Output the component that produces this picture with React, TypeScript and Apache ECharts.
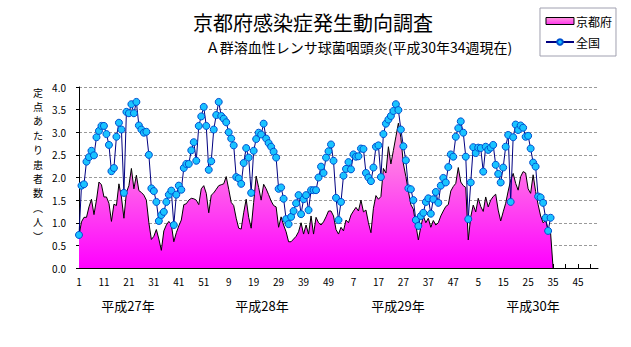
import React, { useEffect, useRef } from "react";
import * as echarts from "echarts";

const yearWeeks = [52, 52, 52, 53];
const yearLabels = ["平成27年", "平成28年", "平成29年", "平成30年"];
const categories: string[] = [];
yearWeeks.forEach((n) => {
  for (let w = 1; w <= n; w++) categories.push(String(w));
});

const yTicks = [0, 0.5, 1, 1.5, 2, 2.5, 3, 3.5, 4];
const yAxisTitleChars = ["定", "点", "あ", "た", "り", "患", "者", "数", "︵", "人", "︶"];

const kyoto = [
  0.72, 1.02, 1.12, 1.12, 1.35, 1.52, 1.18, 1.5, 1.9, 1.84,
  1.57, 1.57, 1.43, 1.03, 1.41, 1.38, 1.86, 1.57, 1.1, 1.67,
  1.82, 2.2, 1.75, 2.05, 1.71, 1.67, 1.61, 1.5, 1.0, 0.63,
  0.7, 0.85, 0.64, 0.39, 0.82, 0.95, 1.03, 0.96, 0.58, 0.78,
  0.93, 1.06, 1.4, 1.42, 1.5, 1.54, 1.53, 1.5, 1.4, 1.75,
  1.82, 1.65, 1.22, 1.61, 1.66, 1.74, 1.82, 1.84, 1.86, 2.02,
  1.74, 1.45, 1.38, 1.1, 0.88, 0.86, 1.22, 1.52, 1.12, 0.88,
  1.45, 2.03, 1.78, 1.5, 1.85, 1.75, 1.62, 1.48, 1.38, 1.35,
  0.9, 1.13, 0.95, 0.8, 0.58, 0.58, 0.64, 0.7, 0.8, 1.0,
  0.75, 0.95, 0.75, 1.15, 0.75, 1.12, 1.0, 0.95, 1.02, 1.13,
  1.26, 1.26, 1.15, 0.85, 0.75, 0.9, 0.82, 1.06, 1.0, 1.17,
  1.26, 1.34, 1.26, 1.5, 1.24, 1.28, 1.0, 0.78, 1.32, 1.6,
  1.52, 1.58, 2.2, 2.1, 2.68, 2.3, 2.6, 2.9, 3.2, 2.88,
  2.3, 2.02, 1.7, 1.4, 1.3, 0.95, 0.62, 0.91, 1.15, 1.0,
  1.1, 0.9, 1.05, 0.95, 1.0, 1.15, 1.26, 1.36, 1.4, 1.7,
  1.8, 1.87, 2.22, 1.9, 1.82, 1.78, 0.62, 1.13, 1.39, 1.24,
  1.54, 1.36, 1.25, 1.57, 1.35, 1.5, 1.58, 1.63, 1.28, 1.04,
  1.24, 1.43, 1.7, 1.94, 2.09, 1.87, 1.72, 2.02, 2.13, 2.1,
  1.75, 1.65, 2.06, 1.69, 1.4, 1.15, 1.0, 1.05, 0.85, 0.78,
  0,
];

const national = [
  0.73, 1.82, 1.85, 2.35, 2.45, 2.59, 2.49, 2.89, 3.03, 3.14,
  3.14, 2.96, 2.72, 2.14, 2.21, 2.9, 3.21, 3.06, 1.66, 3.45,
  3.42, 3.62, 3.42, 3.67, 3.15, 3.06, 2.99, 3.01, 2.5, 1.76,
  1.7, 1.46, 1.04, 1.17, 1.24, 1.46, 1.62, 1.71, 0.95, 1.62,
  1.82, 1.73, 2.21, 2.3, 2.3, 2.6, 2.78, 2.37, 3.14, 3.35,
  3.56, 3.14, 2.17, 2.36, 3.06, 3.38, 3.67, 3.36, 3.3, 3.22,
  3.0, 2.86, 2.71, 2.01, 1.98, 1.86, 2.32, 2.65, 2.44, 1.66,
  2.59, 2.85, 2.99, 2.95, 3.19, 2.86, 2.76, 2.68, 2.57, 2.44,
  1.75, 1.78, 1.53, 1.08, 0.97, 1.13, 1.26, 1.43, 1.61, 1.19,
  1.52, 1.61, 1.28, 1.72, 1.72, 1.72, 2.0, 2.24, 2.1, 2.44,
  2.58, 2.73, 2.37, 1.55, 1.06, 1.46, 2.04, 2.19, 2.34, 2.18,
  2.51, 2.46, 2.47, 2.64, 2.63, 2.1, 2.0, 1.92, 2.22, 2.68,
  2.71, 2.01, 2.96, 3.19, 3.28, 3.36, 3.47, 3.62, 3.49, 3.06,
  2.69, 2.38, 1.76, 1.74, 1.5, 1.06, 0.93, 1.15, 1.22, 1.46,
  1.54, 1.2, 1.52, 1.68, 1.44, 1.82, 1.99, 1.89, 2.23, 2.51,
  2.46, 2.9, 3.09, 3.24, 2.99, 2.46, 1.08, 1.89, 2.67, 2.54,
  2.66, 2.65, 2.13, 2.68, 2.61, 2.66, 2.72, 2.28, 2.08, 1.89,
  2.22, 2.68, 2.94, 1.46, 2.89, 3.17, 3.05, 3.15, 3.1, 2.9,
  2.92, 2.64, 2.33, 2.24, 1.58, 1.56, 1.44, 1.11, 0.82, 1.11,
];

const FONT = "'Noto Sans CJK JP', 'Noto Sans', sans-serif";

export default function App() {
  const ref = useRef<HTMLDivElement>(null);

  useEffect(() => {
    if (!ref.current) return;
    const chart = echarts.init(ref.current, undefined, { renderer: "svg" });

    const pink = new echarts.graphic.LinearGradient(0, 0, 0, 1, [
      { offset: 0, color: "#FFA6DC" },
      { offset: 1, color: "#FF00FF" },
    ]);
    const pinkLegend = new echarts.graphic.LinearGradient(0, 0, 0, 1, [
      { offset: 0, color: "#FF99DD" },
      { offset: 1, color: "#FF33EE" },
    ]);

    const yearX = [128, 262, 398, 533];

    chart.setOption({
      animation: false,
      textStyle: { fontFamily: FONT },
      grid: { left: 79, right: 33, top: 87, bottom: 79, containLabel: false },
      legend: {
        orient: "vertical",
        right: 15,
        top: 8,
        padding: [7, 4, 8, 5],
        itemGap: 9,
        itemWidth: 28,
        itemHeight: 7,
        borderColor: "#A0A0B0",
        borderWidth: 1,
        backgroundColor: "#fff",
        textStyle: { fontSize: 12, color: "#000", fontFamily: FONT, padding: [0, 0, 0, -3] },
        data: [
          {
            name: "京都府",
            icon: "rect",
            itemStyle: { color: pinkLegend, borderColor: "#000", borderWidth: 1 },
          },
          { name: "全国" },
        ],
      },
      xAxis: {
        type: "category",
        data: categories,
        boundaryGap: false,
        axisLine: { lineStyle: { color: "#000", width: 1 } },
        axisTick: {
          show: true,
          inside: true,
          interval: 4,
          length: 4,
          lineStyle: { color: "#000" },
        },
        axisLabel: {
          interval: 9,
          color: "#000",
          fontSize: 10,
          margin: 8,
          fontFamily: FONT,
        },
        splitLine: { show: false },
      },
      yAxis: {
        type: "value",
        min: yTicks[0],
        max: yTicks[yTicks.length - 1],
        interval: 0.5,
        axisLine: { show: true, lineStyle: { color: "#000" } },
        axisTick: { show: true, length: 3, lineStyle: { color: "#000" } },
        axisLabel: {
          formatter: (v: number) => v.toFixed(1),
          color: "#000",
          fontSize: 10,
          margin: 13,
          fontFamily: FONT,
        },
        splitLine: { show: true, lineStyle: { color: "#9A9A9A", type: [3, 2], width: 1 } },
      },
      series: [
        {
          name: "京都府",
          type: "line",
          data: kyoto,
          symbol: "none",
          lineStyle: { color: "#000", width: 1 },
          itemStyle: { color: "#FF66DD" },
          areaStyle: { color: pink, opacity: 1 },
          z: 1,
        },
        {
          name: "全国",
          type: "line",
          data: national,
          symbol: "circle",
          symbolSize: 7,
          showAllSymbol: true,
          lineStyle: { color: "#000080", width: 1 },
          itemStyle: { color: "#19C3FF", borderColor: "#0050D0", borderWidth: 1 },
          z: 2,
        },
      ],
      graphic: [
        {
          type: "text",
          x: 313,
          y: 22,
          style: {
            text: "京都府感染症発生動向調査",
            font: `20px ${FONT}`,
            fill: "#000",
            align: "center",
            verticalAlign: "middle",
          },
        },
        {
          type: "text",
          x: 359,
          y: 47,
          style: {
            text: "Ａ群溶血性レンサ球菌咽頭炎(平成30年34週現在)",
            font: `14px ${FONT}`,
            fill: "#000",
            align: "center",
            verticalAlign: "middle",
          },
        },
        ...yAxisTitleChars.map((c, i) => ({
          type: "text",
          x: 38,
          y: 92 + i * 14.4,
          style: {
            text: c,
            font: `10px ${FONT}`,
            fill: "#000",
            align: "center",
            verticalAlign: "middle",
          },
        })),
        ...yearLabels.map((t, i) => ({
          type: "text",
          x: yearX[i],
          y: 305,
          style: {
            text: t,
            font: `13px ${FONT}`,
            fill: "#000",
            align: "center",
            verticalAlign: "middle",
          },
        })),
      ],
    });

    return () => chart.dispose();
  }, []);

  return (
    <div
      ref={ref}
      style={{ position: "fixed", left: 0, top: 0, width: 631, height: 347, background: "#fff" }}
    />
  );
}
